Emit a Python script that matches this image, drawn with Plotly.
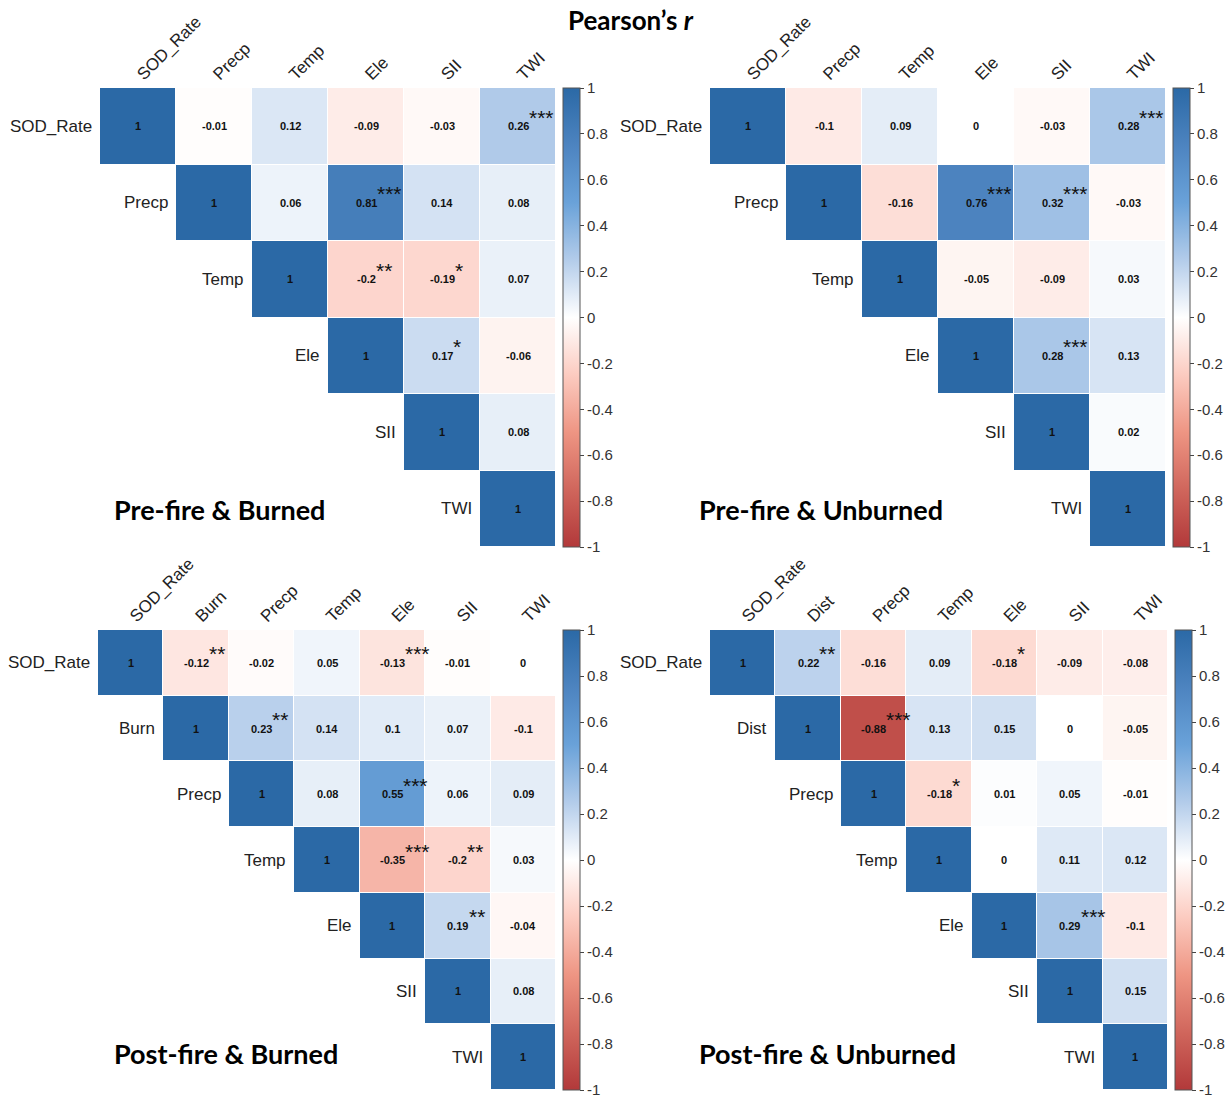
import plotly.graph_objects as go

# ---- data: upper-triangle Pearson correlations (row-major) and significance marks ----
pre_burned_vars = ["SOD_Rate", "Precp", "Temp", "Ele", "SII", "TWI"]
pre_burned_r = [
    [1, -0.01, 0.12, -0.09, -0.03, 0.26],
    [1, 0.06, 0.81, 0.14, 0.08],
    [1, -0.2, -0.19, 0.07],
    [1, 0.17, -0.06],
    [1, 0.08],
    [1],
]
pre_burned_sig = [
    ["", "", "", "", "", "***"],
    ["", "", "***", "", ""],
    ["", "**", "*", ""],
    ["", "*", ""],
    ["", ""],
    [""],
]

pre_unburned_vars = ["SOD_Rate", "Precp", "Temp", "Ele", "SII", "TWI"]
pre_unburned_r = [
    [1, -0.1, 0.09, 0, -0.03, 0.28],
    [1, -0.16, 0.76, 0.32, -0.03],
    [1, -0.05, -0.09, 0.03],
    [1, 0.28, 0.13],
    [1, 0.02],
    [1],
]
pre_unburned_sig = [
    ["", "", "", "", "", "***"],
    ["", "", "***", "***", ""],
    ["", "", "", ""],
    ["", "***", ""],
    ["", ""],
    [""],
]

post_burned_vars = ["SOD_Rate", "Burn", "Precp", "Temp", "Ele", "SII", "TWI"]
post_burned_r = [
    [1, -0.12, -0.02, 0.05, -0.13, -0.01, 0],
    [1, 0.23, 0.14, 0.1, 0.07, -0.1],
    [1, 0.08, 0.55, 0.06, 0.09],
    [1, -0.35, -0.2, 0.03],
    [1, 0.19, -0.04],
    [1, 0.08],
    [1],
]
post_burned_sig = [
    ["", "**", "", "", "***", "", ""],
    ["", "**", "", "", "", ""],
    ["", "", "***", "", ""],
    ["", "***", "**", ""],
    ["", "**", ""],
    ["", ""],
    [""],
]

post_unburned_vars = ["SOD_Rate", "Dist", "Precp", "Temp", "Ele", "SII", "TWI"]
post_unburned_r = [
    [1, 0.22, -0.16, 0.09, -0.18, -0.09, -0.08],
    [1, -0.88, 0.13, 0.15, 0, -0.05],
    [1, -0.18, 0.01, 0.05, -0.01],
    [1, 0, 0.11, 0.12],
    [1, 0.29, -0.1],
    [1, 0.15],
    [1],
]
post_unburned_sig = [
    ["", "**", "", "", "*", "", ""],
    ["", "***", "", "", "", ""],
    ["", "*", "", "", ""],
    ["", "", "", ""],
    ["", "***", ""],
    ["", ""],
    [""],
]

panel_titles = ["Pre-fire & Burned", "Pre-fire & Unburned",
                "Post-fire & Burned", "Post-fire & Unburned"]
cbar_ticks = [1, 0.8, 0.6, 0.4, 0.2, 0, -0.2, -0.4, -0.6, -0.8, -1]

# ---- styling ----
W, H = 1226, 1099
colorscale = [
    [0.000, "#B2393A"],
    [0.125, "#D0665C"],
    [0.250, "#EE9583"],
    [0.375, "#FCCBC0"],
    [0.500, "#FFFFFF"],
    [0.625, "#B3CCEA"],
    [0.750, "#6AA2D9"],
    [0.875, "#4D84C0"],
    [1.000, "#2B69A6"],
]
LABEL_FONT = "Liberation Sans, Arial, sans-serif"
TITLE_FONT = "Lato, Open Sans, sans-serif"


def px(x):
    return x / W


def py(y):
    return 1 - y / H


# pixel boxes of each grid: (left, right, top, bottom), colorbar left, title position
panels = [
    dict(vars=pre_burned_vars, r=pre_burned_r, sig=pre_burned_sig,
         box=(100, 556, 88, 547), cbx=563, title=(112, 509)),
    dict(vars=pre_unburned_vars, r=pre_unburned_r, sig=pre_unburned_sig,
         box=(710, 1166, 88, 547), cbx=1173, title=(697, 509)),
    dict(vars=post_burned_vars, r=post_burned_r, sig=post_burned_sig,
         box=(98, 556, 630, 1090), cbx=563, title=(112, 1053)),
    dict(vars=post_unburned_vars, r=post_unburned_r, sig=post_unburned_sig,
         box=(710, 1168, 630, 1090), cbx=1175, title=(697, 1053)),
]


def num_label(v):
    return f"{v:g}"


def label_width(s):
    # approximate rendered width of a bold 11px label
    w = 0.0
    for ch in s:
        w += 3.7 if ch == "-" else (3.1 if ch == "." else 6.1)
    return w


fig = go.Figure()
annotations = []

for k, p in enumerate(panels, start=1):
    names = p["vars"]
    n = len(names)
    z = [[None] * n for _ in range(n)]
    for i, row in enumerate(p["r"]):
        for j, v in enumerate(row):
            z[i][i + j] = v
    left, right, top, bottom = p["box"]
    xa = "x" if k == 1 else f"x{k}"
    ya = "y" if k == 1 else f"y{k}"

    fig.add_trace(go.Heatmap(
        z=z, x=list(range(n)), y=list(range(n)),
        colorscale=colorscale, zmin=-1, zmax=1,
        xgap=1, ygap=1, hoverinfo="skip",
        xaxis=xa, yaxis=ya,
        colorbar=dict(
            x=px(p["cbx"]), xanchor="left", xpad=0,
            y=py(top), yanchor="top", ypad=0,
            len=bottom - top, lenmode="pixels",
            thickness=17, thicknessmode="pixels",
            outlinewidth=1, outlinecolor="#555555",
            tickvals=cbar_ticks, ticktext=[f"{t:g}" for t in cbar_ticks],
            ticks="outside", ticklen=4, tickcolor="#444444",
            ticklabeloverflow="allow",
            tickfont=dict(family=LABEL_FONT, size=15, color="#333333"),
        ),
    ))

    axis_suffix = "" if k == 1 else str(k)
    fig.layout["xaxis" + axis_suffix] = dict(
        domain=[px(left), px(right)], range=[-0.5, n - 0.5],
        anchor=ya, side="top", tickmode="array",
        tickvals=list(range(n)), ticktext=names, tickangle=-45,
        tickfont=dict(family=LABEL_FONT, size=17, color="#222222"),
        showgrid=False, zeroline=False, showline=False, ticks="",
        fixedrange=True,
    )
    fig.layout["yaxis" + axis_suffix] = dict(
        domain=[py(bottom), py(top)], range=[n - 0.5, -0.5],
        anchor=xa, showticklabels=False, showgrid=False,
        zeroline=False, showline=False, ticks="", fixedrange=True,
    )

    # row names beside the diagonal
    for i, name in enumerate(names):
        annotations.append(dict(
            x=i - 0.5, y=i, xref=xa, yref=ya, text=name, showarrow=False,
            xanchor="right", yanchor="middle", xshift=-6,
            font=dict(family=LABEL_FONT, size=17, color="#222222"),
        ))

    # coefficient labels and significance stars
    for i, row in enumerate(p["r"]):
        for j, v in enumerate(row):
            col = i + j
            s = num_label(v)
            annotations.append(dict(
                x=col, y=i, xref=xa, yref=ya, text=f"<b>{s}</b>",
                showarrow=False, xanchor="center", yanchor="middle",
                font=dict(family=LABEL_FONT, size=11, color="#111111"),
            ))
            stars = p["sig"][i][j]
            if stars:
                annotations.append(dict(
                    x=col, y=i, xref=xa, yref=ya, text=stars,
                    showarrow=False, xanchor="left", yanchor="middle",
                    xshift=label_width(s) / 2 - 2, yshift=9,
                    font=dict(family=LABEL_FONT, size=21, color="#111111"),
                ))

    tx, ty = p["title"]
    annotations.append(dict(
        x=px(tx), y=py(ty), xref="paper", yref="paper",
        text=f"<b>{panel_titles[k - 1]}</b>", showarrow=False,
        xanchor="left", yanchor="middle",
        font=dict(family=TITLE_FONT, size=27, color="#000000"),
    ))

annotations.append(dict(
    x=px(631), y=py(20), xref="paper", yref="paper",
    text="<b>Pearson’s <i>r</i></b>", showarrow=False,
    xanchor="center", yanchor="middle",
    font=dict(family=TITLE_FONT, size=26, color="#000000"),
))

fig.update_layout(
    width=W, height=H, margin=dict(l=0, r=0, t=0, b=0),
    paper_bgcolor="white", plot_bgcolor="white",
    annotations=annotations, showlegend=False,
)

fig.write_html("out.html")
